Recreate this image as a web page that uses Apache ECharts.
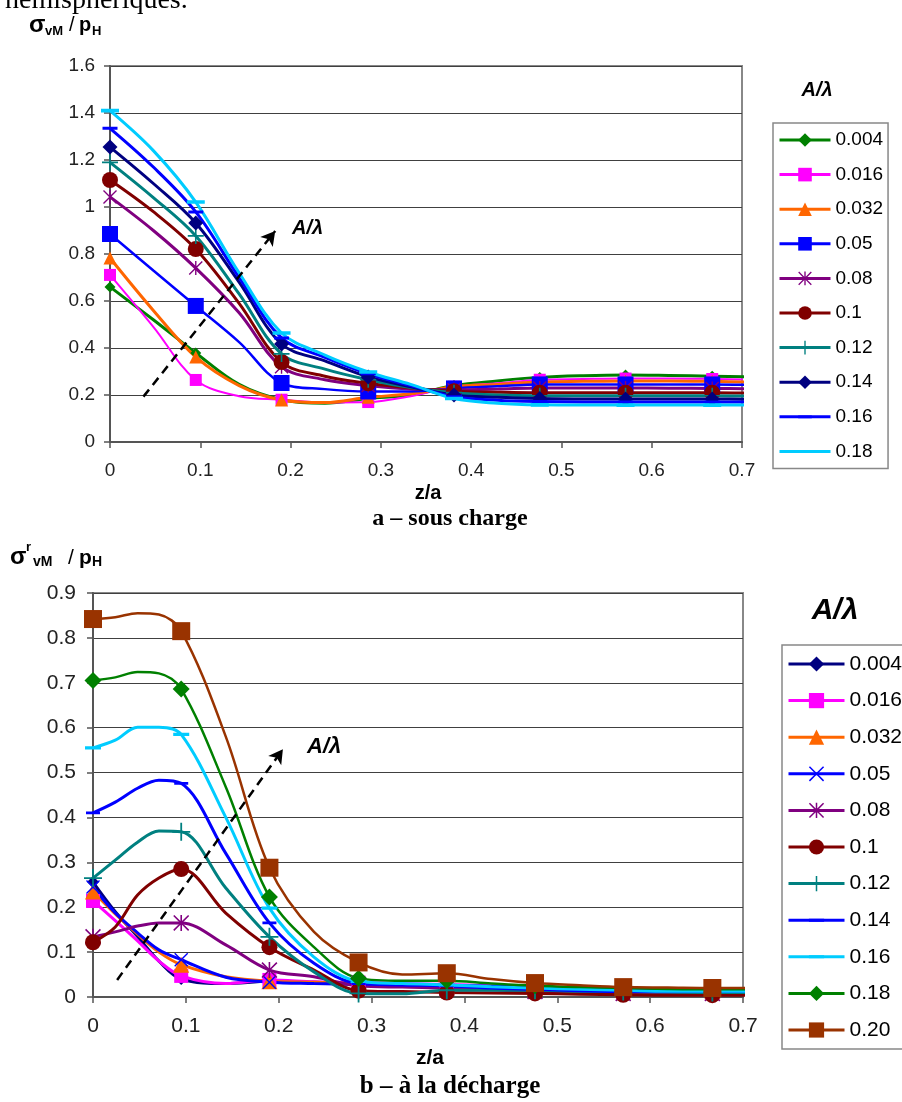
<!DOCTYPE html>
<html><head><meta charset="utf-8">
<script src="https://cdn.jsdelivr.net/npm/echarts@6/dist/echarts.min.js"></script>
<style>html,body{margin:0;padding:0;background:#fff}#c{width:902px;height:1102px}</style>
</head><body><div id="c"></div>
<script>
// ---------- Chart a : sous charge ----------
const XA = [0, 0.048, 0.095, 0.143, 0.19, 0.238, 0.286, 0.333, 0.381, 0.429, 0.476, 0.524, 0.571, 0.619, 0.667, 0.714];
const MARK_A = [0, 2, 4, 6, 8, 10, 12, 14];
const LABELS_A = ['0.004', '0.016', '0.032', '0.05', '0.08', '0.1', '0.12', '0.14', '0.16', '0.18'];
const A_004 = [0.66, 0.52, 0.379, 0.245, 0.18, 0.165, 0.185, 0.2, 0.24, 0.26, 0.275, 0.282, 0.285, 0.283, 0.28, 0.277];
const A_016 = [0.711, 0.49, 0.264, 0.195, 0.18, 0.168, 0.17, 0.195, 0.235, 0.25, 0.265, 0.268, 0.27, 0.27, 0.268, 0.265];
const A_032 = [0.783, 0.56, 0.362, 0.24, 0.179, 0.168, 0.19, 0.205, 0.235, 0.245, 0.255, 0.258, 0.26, 0.26, 0.258, 0.255];
const A_05  = [0.885, 0.73, 0.579, 0.425, 0.251, 0.225, 0.215, 0.215, 0.228, 0.237, 0.245, 0.245, 0.245, 0.245, 0.245, 0.243];
const A_08  = [1.043, 0.9, 0.74, 0.55, 0.32, 0.265, 0.24, 0.225, 0.222, 0.225, 0.23, 0.23, 0.23, 0.229, 0.228, 0.226];
const A_10  = [1.115, 0.98, 0.821, 0.59, 0.34, 0.28, 0.25, 0.23, 0.216, 0.212, 0.21, 0.21, 0.21, 0.21, 0.21, 0.208];
const A_12  = [1.19, 1.04, 0.877, 0.63, 0.375, 0.31, 0.265, 0.232, 0.21, 0.2, 0.197, 0.197, 0.197, 0.197, 0.197, 0.195];
const A_14  = [1.255, 1.1, 0.932, 0.68, 0.417, 0.345, 0.277, 0.235, 0.2, 0.19, 0.185, 0.183, 0.183, 0.183, 0.183, 0.182];
const A_16  = [1.335, 1.17, 0.979, 0.70, 0.443, 0.36, 0.29, 0.24, 0.193, 0.178, 0.172, 0.17, 0.17, 0.17, 0.17, 0.17];
const A_18  = [1.41, 1.24, 1.021, 0.72, 0.464, 0.37, 0.298, 0.245, 0.185, 0.165, 0.158, 0.157, 0.157, 0.157, 0.157, 0.157];
const ARROW_A = [0.037, 0.193, 0.183, 0.898];

// ---------- Chart b : à la décharge ----------
const XB = [0, 0.024, 0.048, 0.071, 0.095, 0.143, 0.19, 0.238, 0.286, 0.333, 0.381, 0.429, 0.476, 0.524, 0.571, 0.619, 0.667, 0.714];
const MARK_B = [0, 4, 6, 8, 10, 12, 14, 16];
const LABELS_B = ['0.004', '0.016', '0.032', '0.05', '0.08', '0.1', '0.12', '0.14', '0.16', '0.18', '0.20'];
const B_004 = [0.256, 0.19, 0.135, 0.08, 0.04, 0.03, 0.035, 0.033, 0.03, 0.028, 0.025, 0.022, 0.02, 0.018, 0.016, 0.015, 0.015, 0.015];
const B_016 = [0.214, 0.17, 0.125, 0.08, 0.047, 0.03, 0.038, 0.034, 0.032, 0.03, 0.028, 0.025, 0.022, 0.02, 0.018, 0.017, 0.016, 0.016];
const B_032 = [0.235, 0.185, 0.14, 0.1, 0.072, 0.045, 0.035, 0.033, 0.03, 0.028, 0.025, 0.022, 0.02, 0.018, 0.016, 0.015, 0.014, 0.014];
const B_05  = [0.245, 0.187, 0.143, 0.105, 0.083, 0.044, 0.033, 0.03, 0.028, 0.027, 0.026, 0.024, 0.022, 0.02, 0.018, 0.017, 0.016, 0.016];
const B_08  = [0.134, 0.145, 0.158, 0.165, 0.165, 0.116, 0.06, 0.045, 0.025, 0.022, 0.02, 0.016, 0.012, 0.01, 0.008, 0.008, 0.008, 0.008];
const B_10  = [0.122, 0.156, 0.227, 0.265, 0.285, 0.187, 0.111, 0.06, 0.014, 0.012, 0.01, 0.009, 0.008, 0.006, 0.005, 0.004, 0.004, 0.004];
const B_12  = [0.265, 0.305, 0.345, 0.37, 0.368, 0.243, 0.134, 0.056, 0.008, 0.007, 0.015, 0.015, 0.015, 0.013, 0.012, 0.011, 0.01, 0.01];
const B_14  = [0.41, 0.434, 0.465, 0.483, 0.476, 0.32, 0.165, 0.075, 0.03, 0.027, 0.025, 0.02, 0.017, 0.014, 0.012, 0.012, 0.012, 0.012];
const B_16  = [0.555, 0.572, 0.601, 0.601, 0.585, 0.4, 0.198, 0.089, 0.035, 0.03, 0.027, 0.023, 0.02, 0.017, 0.015, 0.013, 0.013, 0.013];
const B_18  = [0.705, 0.712, 0.724, 0.721, 0.686, 0.468, 0.223, 0.111, 0.042, 0.036, 0.036, 0.03, 0.025, 0.022, 0.02, 0.018, 0.017, 0.017];
const B_20  = [0.842, 0.846, 0.855, 0.852, 0.815, 0.58, 0.288, 0.145, 0.077, 0.05, 0.053, 0.04, 0.031, 0.026, 0.022, 0.021, 0.02, 0.02];
const ARROW_B = [0.026, 0.038, 0.2045, 0.552];

// ---------- symbols ----------
const PLUS = 'path://M-1,-10H1V-1H10V1H1V10H-1V1H-10V-1H-1Z';
const CROSS = 'path://M-10,-8.6L-8.6,-10L0,-1.4L8.6,-10L10,-8.6L1.4,0L10,8.6L8.6,10L0,1.4L-8.6,10L-10,8.6L-1.4,0Z';
const STAR = 'path://M-10,-8.6L-8.6,-10L0,-1.4L8.6,-10L10,-8.6L1.4,0L10,8.6L8.6,10L0,1.4L-8.6,10L-10,8.6L-1.4,0Z M-1,-10H1V10H-1Z';
const DASH = 'path://M0,8H20V12H0Z M10,0L10.02,0L10,0.02Z M10,20L10.02,20L10,19.98Z';

const FONT = "'Liberation Sans', Arial, sans-serif";
const SERIF = "'Liberation Serif', 'Times New Roman', serif";

function mk(prefix, label, xs, ys, marks, g, color, symbol, size, lw) {
  return {
    type: 'line', name: prefix + label, xAxisIndex: g, yAxisIndex: g,
    data: xs.map((x, i) => marks.includes(i) ? [x, ys[i]] : { value: [x, ys[i]], symbol: 'none' }),
    smooth: 0.35, clip: false, symbol: symbol, symbolSize: size, showAllSymbol: true,
    lineStyle: { color: color, width: lw }, itemStyle: { color: color, borderWidth: 0 },
    silent: true, animation: false
  };
}

const seriesA = [
  mk('a', LABELS_A[0], XA, A_004, MARK_A, 0, '#008000', 'diamond', 11, 3),
  mk('a', LABELS_A[1], XA, A_016, MARK_A, 0, '#FF00FF', 'rect', 12, 2),
  mk('a', LABELS_A[2], XA, A_032, MARK_A, 0, '#FF6600', 'triangle', 13, 3),
  mk('a', LABELS_A[3], XA, A_05,  MARK_A, 0, '#0000FF', 'rect', 16, 2.5),
  mk('a', LABELS_A[4], XA, A_08,  MARK_A, 0, '#800080', STAR, 14, 3),
  mk('a', LABELS_A[5], XA, A_10,  MARK_A, 0, '#800000', 'circle', 16, 3),
  mk('a', LABELS_A[6], XA, A_12,  MARK_A, 0, '#008080', PLUS, 16, 3),
  mk('a', LABELS_A[7], XA, A_14,  MARK_A, 0, '#000080', 'diamond', 15, 3),
  mk('a', LABELS_A[8], XA, A_16,  MARK_A, 0, '#0000FF', DASH, 15, 3),
  mk('a', LABELS_A[9], XA, A_18,  MARK_A, 0, '#00CCFF', DASH, 18, 3)
];
const seriesB = [
  mk('b', LABELS_B[0], XB, B_004, MARK_B, 1, '#000080', 'diamond', 12, 3),
  mk('b', LABELS_B[1], XB, B_016, MARK_B, 1, '#FF00FF', 'rect', 14, 3),
  mk('b', LABELS_B[2], XB, B_032, MARK_B, 1, '#FF6600', 'triangle', 16, 3),
  mk('b', LABELS_B[3], XB, B_05,  MARK_B, 1, '#0000FF', CROSS, 14, 3),
  mk('b', LABELS_B[4], XB, B_08,  MARK_B, 1, '#800080', STAR, 16, 3),
  mk('b', LABELS_B[5], XB, B_10,  MARK_B, 1, '#800000', 'circle', 16, 3),
  mk('b', LABELS_B[6], XB, B_12,  MARK_B, 1, '#008080', PLUS, 18, 3),
  mk('b', LABELS_B[7], XB, B_14,  MARK_B, 1, '#0000FF', DASH, 14, 3),
  mk('b', LABELS_B[8], XB, B_16,  MARK_B, 1, '#00CCFF', DASH, 16, 3),
  mk('b', LABELS_B[9], XB, B_18,  MARK_B, 1, '#008000', 'diamond', 17, 2.5),
  mk('b', LABELS_B[10], XB, B_20, MARK_B, 1, '#993300', 'rect', 18, 2.5)
];

function arrow(a) {
  return {
    silent: true, animation: false, symbol: ['none', 'arrow'], symbolSize: [12, 14],
    label: { show: false }, lineStyle: { color: '#000', width: 2.5, type: [9, 6] },
    emphasis: { disabled: true },
    data: [[{ coord: [a[0], a[1]] }, { coord: [a[2], a[3]] }]]
  };
}
seriesA[0].markLine = arrow(ARROW_A);
seriesB[0].markLine = arrow(ARROW_B);

function xAxis(g, fs) {
  return {
    type: 'value', gridIndex: g, min: 0, max: 0.7, interval: 0.1,
    axisLine: { show: true, lineStyle: { color: '#555', width: 2 } },
    axisTick: { show: true, length: 6, lineStyle: { color: '#555', width: 1.5 } },
    splitLine: { show: false },
    axisLabel: { fontSize: fs, color: '#222', fontFamily: FONT, margin: 19 }
  };
}
function yAxis(g, max, step, fs, margin) {
  return {
    type: 'value', gridIndex: g, min: 0, max: max, interval: step,
    axisLine: { show: true, lineStyle: { color: '#555', width: 2 } },
    axisTick: { show: true, length: 6, lineStyle: { color: '#555', width: 1.5 } },
    splitLine: { show: true, lineStyle: { color: '#404040', width: 1 } },
    axisLabel: { fontSize: fs, color: '#222', fontFamily: FONT, margin: margin }
  };
}

const legendCommon = {
  orient: 'vertical', selectedMode: false, borderColor: '#888', borderWidth: 1.5,
  backgroundColor: '#fff', itemStyle: { borderWidth: 0 }, lineStyle: { width: 3 }
};

function txt(x, y, text, size, weight, style, align, family) {
  return { type: 'text', x: x, y: y, silent: true, style: {
    text: text, fill: '#000', fontSize: size, fontWeight: weight || 'normal',
    fontStyle: style || 'normal', fontFamily: family || FONT,
    align: align || 'left', verticalAlign: 'middle' } };
}

const option = {
  backgroundColor: '#fff',
  animation: false,
  grid: [
    { left: 110, top: 66, width: 632, height: 376, show: true, borderColor: '#888', borderWidth: 2, backgroundColor: '#fff' },
    { left: 93, top: 593, width: 650, height: 404, show: true, borderColor: '#888', borderWidth: 2, backgroundColor: '#fff' }
  ],
  xAxis: [xAxis(0, 19), xAxis(1, 21)],
  yAxis: [yAxis(0, 1.6, 0.2, 19, 15), yAxis(1, 0.9, 0.1, 21, 17)],
  legend: [
    Object.assign({}, legendCommon, {
      left: 773, top: 123, padding: [7, 5, 7, 5], itemWidth: 51, itemHeight: 17, itemGap: 14.6,
      data: LABELS_A.map(l => 'a' + l), formatter: n => n.slice(1),
      textStyle: { fontSize: 19, lineHeight: 20, color: '#000', fontFamily: FONT }
    }),
    Object.assign({}, legendCommon, {
      left: 782, top: 645, padding: [8, 5, 8, 5], itemWidth: 56, itemHeight: 19, itemGap: 14.6,
      data: LABELS_B.map(l => 'b' + l), formatter: n => n.slice(1),
      textStyle: { fontSize: 21, lineHeight: 22, color: '#000', fontFamily: FONT }
    })
  ],
  graphic: [
    txt(5, 1, 'hémisphériques.', 28, 'normal', 'normal', 'left', SERIF),
    // y-axis title a
    txt(29, 25, 'σ', 24, 'bold'),
    txt(45, 31, 'vM', 13, 'bold'),
    txt(69, 25, '/', 20, 'normal'),
    txt(79, 25, 'p', 20, 'bold'),
    txt(92, 31, 'H', 13, 'bold'),
    // legend title a, arrow label a, axis name, caption
    txt(817, 90, 'A/λ', 20, 'bold', 'italic', 'center'),
    txt(292, 228, 'A/λ', 20, 'bold', 'italic', 'left'),
    txt(428, 493, 'z/a', 20, 'bold', 'normal', 'center'),
    txt(450, 519, 'a – sous charge', 24, 'bold', 'normal', 'center', SERIF),
    // y-axis title b
    txt(10, 557, 'σ', 24, 'bold'),
    txt(26, 547, 'r', 13, 'bold'),
    txt(33, 562, 'vM', 14, 'bold'),
    txt(68, 558, '/', 21, 'normal'),
    txt(79, 558, 'p', 21, 'bold'),
    txt(92, 562, 'H', 14, 'bold'),
    txt(835, 611, 'A/λ', 30, 'bold', 'italic', 'center'),
    txt(307, 747, 'A/λ', 22, 'bold', 'italic', 'left'),
    txt(430, 1058, 'z/a', 21, 'bold', 'normal', 'center'),
    txt(450, 1087, 'b – à la décharge', 25, 'bold', 'normal', 'center', SERIF)
  ],
  series: seriesA.concat(seriesB)
};

const chart = echarts.init(document.getElementById('c'), null, { renderer: 'canvas' });
chart.setOption(option);
</script>
</body></html>
